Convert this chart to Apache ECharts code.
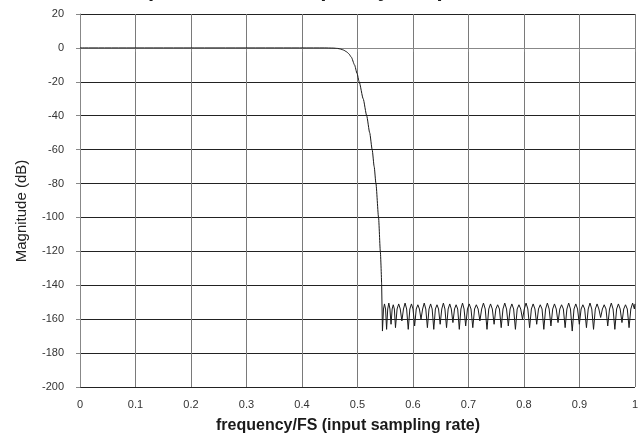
<!DOCTYPE html>
<html>
<head>
<meta charset="utf-8">
<script src="https://cdn.jsdelivr.net/npm/echarts@6/dist/echarts.min.js"></script>
<style>html,body{margin:0;padding:0;background:#fff;}#c{width:641px;height:435px;}</style>
</head>
<body>
<div id="c"></div>
<script>
// Texts
const titleText = 'Composite Filter Frequency Response';
const xName = 'frequency/FS (input sampling rate)';
const yName = 'Magnitude (dB)';
const xTicks = { min: 0, max: 1, step: 0.1 };
const yTicks = { min: -200, max: 20, step: 20 };

// Passband + transition band
const passFreq = [0, 0.44, 0.456, 0.464, 0.470, 0.475, 0.480, 0.4845, 0.489, 0.4947, 0.4992, 0.5031, 0.5103, 0.5166, 0.5220, 0.5265, 0.5301, 0.5333, 0.5380, 0.5412, 0.5436];
const passMag  = [0, 0, -0.1, -0.3, -0.7, -1.3, -2.2, -3.5, -5.5, -10, -15, -20, -30, -40, -50, -60, -70, -80, -100, -120, -140];

// Stopband ripple
const stopFreq = [
0.5450,0.5469,0.5487,0.5506, 0.5525,0.5545,0.5565,0.5585, 0.5605,0.5625,0.5645,0.5665,
0.5685,0.5714,0.5743,0.5771, 0.5800,0.5829,0.5858,0.5886, 0.5915,0.5944,0.5973,0.6001,
0.6030,0.6059,0.6088,0.6116, 0.6145,0.6174,0.6203,0.6231, 0.6260,0.6289,0.6318,0.6346,
0.6375,0.6404,0.6433,0.6461, 0.6490,0.6519,0.6548,0.6576, 0.6605,0.6634,0.6663,0.6691,
0.6720,0.6749,0.6778,0.6806, 0.6835,0.6864,0.6893,0.6921, 0.6950,0.6982,0.7014,0.7046,
0.7078,0.7110,0.7142,0.7174, 0.7206,0.7238,0.7270,0.7302, 0.7334,0.7366,0.7398,0.7430,
0.7462,0.7494,0.7526,0.7558, 0.7590,0.7622,0.7654,0.7686, 0.7718,0.7750,0.7782,0.7814,
0.7846,0.7878,0.7910,0.7942, 0.7974,0.8006,0.8038,0.8070, 0.8102,0.8134,0.8166,0.8198,
0.8230,0.8262,0.8294,0.8326, 0.8358,0.8390,0.8422,0.8454, 0.8486,0.8518,0.8550,0.8582,
0.8614,0.8646,0.8678,0.8710, 0.8742,0.8774,0.8806,0.8838, 0.8870,0.8902,0.8934,0.8966,
0.8998,0.9030,0.9062,0.9094, 0.9126,0.9158,0.9190,0.9222, 0.9254,0.9286,0.9318,0.9350,
0.9382,0.9414,0.9446,0.9478, 0.9510,0.9542,0.9574,0.9606, 0.9638,0.9670,0.9702,0.9734,
0.9766,0.9798,0.9830,0.9862, 0.9894,0.9926,0.9958,0.9990, 1.0
];
const stopMag = [
-167,-154,-151,-154, -166,-154,-150.5,-154, -163,-154,-151.5,-154,
-165,-154,-151,-154, -161,-154,-150.5,-154, -166,-154,-151,-154,
-164,-154,-151.5,-154, -160,-154,-150.5,-154, -165,-154,-151,-154,
-166,-154,-151.5,-154, -163,-154,-150.5,-154, -165,-154,-151,-154,
-162,-154,-151.5,-154, -166,-154,-150.5,-154, -164,-154,-151,-154,
-165,-154,-151.5,-154, -161,-154,-150.5,-154, -166,-154,-151,-154,
-163,-154,-151.5,-154, -165,-154,-150.5,-154, -164,-154,-151,-154,
-166,-154,-151.5,-154, -160,-154,-150.5,-154, -165,-154,-151,-154,
-163,-154,-151.5,-154, -166,-154,-150.5,-154, -164,-154,-151,-154,
-162,-154,-151.5,-154, -165,-154,-150.5,-154, -167,-154,-151,-154,
-163,-154,-151.5,-154, -165,-154,-150.5,-154, -166,-154,-151,-154,
-159,-154,-151.5,-154, -164,-154,-150.5,-154, -166,-154,-151,-154,
-162,-154,-151.5,-154, -165,-154,-150.5,-154, -151
];

const passPoints = passFreq.map((f, i) => [f, passMag[i]]);
const stopPoints = [passPoints[passPoints.length - 1]].concat(stopFreq.map((f, i) => [f, stopMag[i]]));

const font = '"Liberation Sans", Arial, sans-serif';
const chart = echarts.init(document.getElementById('c'), null, { renderer: 'canvas' });
chart.setOption({
  backgroundColor: '#ffffff',
  animation: false,
  graphic: [{
    type: 'text', x: 99, y: -10.5, silent: true,
    style: { text: titleText, font: 'bold 22px ' + font, fill: '#1a1a1a', align: 'left', verticalAlign: 'middle' }
  }, {
    type: 'text', x: 348, y: 426, silent: true,
    style: { text: xName, font: 'bold 16px ' + font, fill: '#1a1a1a', align: 'center', verticalAlign: 'middle' }
  }, {
    type: 'text', x: 22, y: 211, rotation: Math.PI / 2, silent: true,
    style: { text: yName, font: '15px ' + font, fill: '#222', align: 'center', verticalAlign: 'middle' }
  }],
  grid: { left: 80, right: 5, top: 14, bottom: 48, containLabel: false },
  xAxis: {
    type: 'value',
    min: xTicks.min, max: xTicks.max, interval: xTicks.step,
    axisLine: { show: true, lineStyle: { color: '#888', width: 1 } },
    axisTick: { show: true, inside: false, length: 4, lineStyle: { color: '#888' } },
    axisLabel: { color: '#333', fontSize: 11, fontFamily: font, margin: 12 },
    splitLine: { show: true, lineStyle: { color: '#7a7a7a', width: 1 } }
  },
  yAxis: {
    type: 'value',
    min: yTicks.min, max: yTicks.max, interval: yTicks.step,
    axisLine: { show: true, lineStyle: { color: '#888', width: 1 } },
    axisTick: { show: true, inside: false, length: 4, lineStyle: { color: '#888' } },
    axisLabel: { color: '#333', fontSize: 11, fontFamily: font, margin: 16 },
    splitLine: { show: true, lineStyle: { color: '#222', width: 1 } }
  },
  series: [{
    type: 'line', data: passPoints, showSymbol: false, smooth: 0.2, smoothMonotone: 'x',
    lineStyle: { color: '#1a1a1a', width: 1 }, z: 5
  }, {
    type: 'line', data: stopPoints, showSymbol: false, smooth: false,
    lineStyle: { color: '#1a1a1a', width: 1 }, z: 5
  }]
});
</script>
</body>
</html>
